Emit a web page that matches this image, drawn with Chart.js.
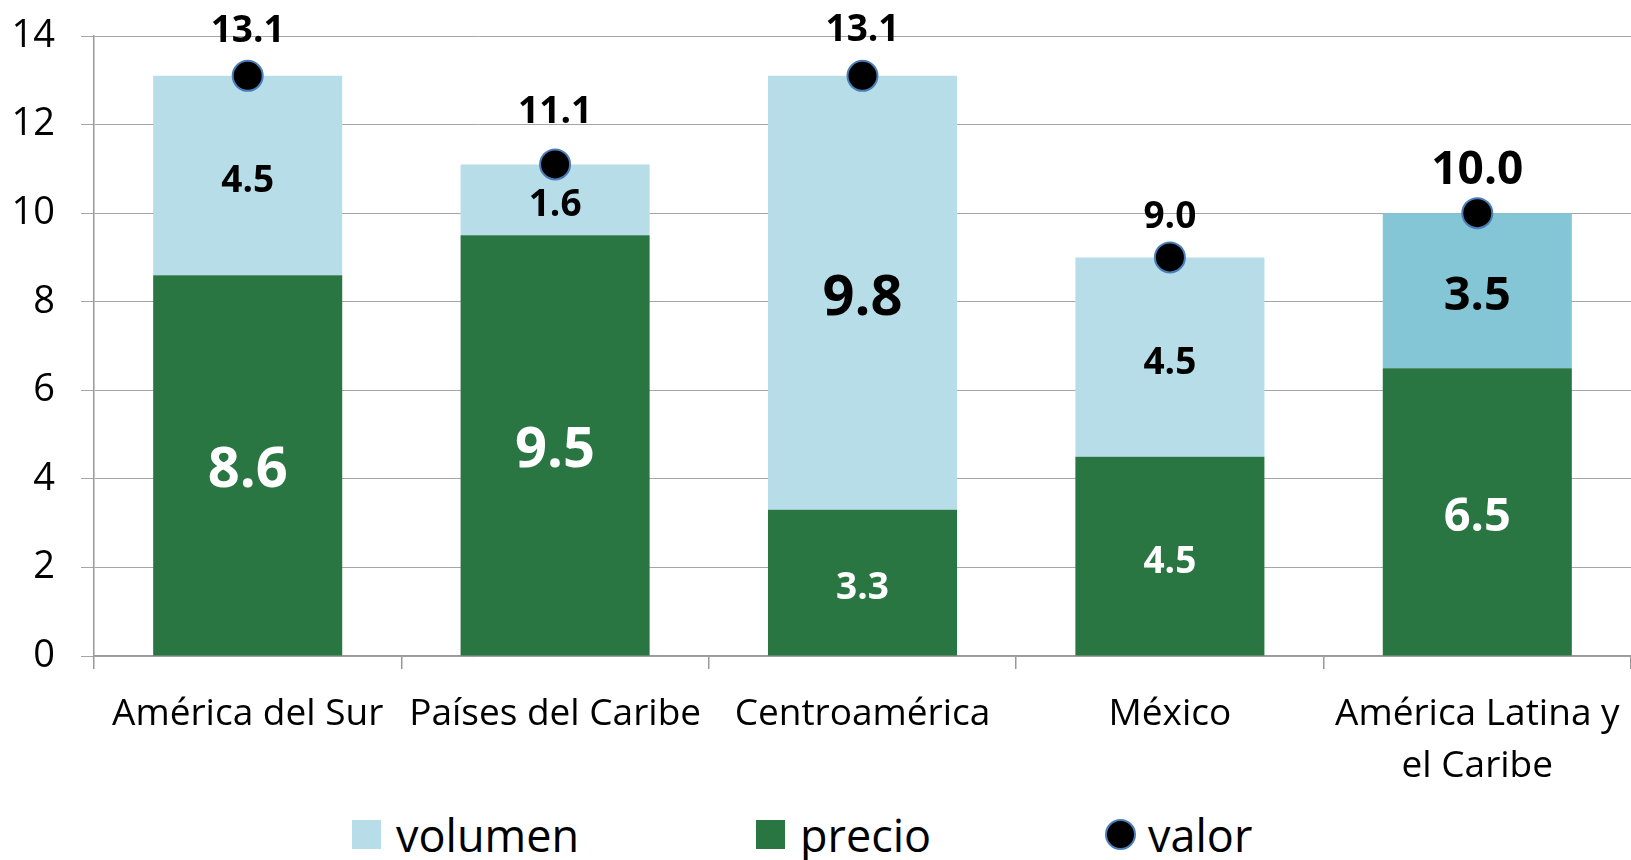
<!DOCTYPE html>
<html>
<head>
<meta charset="utf-8">
<script src="https://cdn.jsdelivr.net/npm/chart.js@4/dist/chart.umd.min.js"></script>
<style>
  html, body { margin: 0; padding: 0; background: #fff; }
  #wrap { position: relative; width: 1631px; height: 860px; }
  #chart { display: block; }
  .legend { position: absolute; top: 804px; left: 0; width: 1631px; height: 60px;
            font-family: "Open Sans", sans-serif; font-size: 45px; color: #000; }
  .item { position: absolute; top: 0; height: 60px; display: flex; align-items: center; }
  .swatch { width: 29px; height: 29px; margin-right: 15px; }
  .dot { width: 27px; height: 27px; border-radius: 50%; background: #000;
         border: 2px solid #4A7EBB; margin-right: 12px; }
</style>
</head>
<body>
<div id="wrap">
  <canvas id="chart"></canvas>
  <div class="legend" id="legend"></div>
</div>
<script>
const categories = [
  'América del Sur',
  'Países del Caribe',
  'Centroamérica',
  'México',
  ['América Latina y', 'el Caribe']
]
const precio = [8.6, 9.5, 3.3, 4.5, 6.5]
const volumen = [4.5, 1.6, 9.8, 4.5, 3.5]
const valor = [13.1, 11.1, 13.1, 9.0, 10.0]
const yTicks = [0, 2, 4, 6, 8, 10, 12, 14]

// label sizes and lifts (px)
const precioFont = [56, 56, 37, 37, 47]
const volumenFont = [37, 37, 56, 37, 47]
const valorFont = [37, 37, 37, 37, 46]
const valorLift = [34, 41, 35, 29, 29]

const green = '#2A7642'
const lightBlue = '#B7DDE8'
const darkBlue = '#84C5D6'
const volumenColors = volumen.map((v, i) => i === volumen.length - 1 ? darkBlue : lightBlue)

const labelPlugin = {
  id: 'valueLabels',
  afterDatasetsDraw(chart) {
    const ctx = chart.ctx
    ctx.save()
    ctx.textAlign = 'center'
    chart.data.datasets.forEach((ds, di) => {
      const meta = chart.getDatasetMeta(di)
      meta.data.forEach((el, i) => {
        const v = ds.data[i]
        const txt = v.toFixed(1)
        if (ds.type === 'line') {
          ctx.font = 'bold ' + valorFont[i] + 'px "Open Sans"'
          ctx.fillStyle = '#000'
          ctx.textBaseline = 'alphabetic'
          ctx.fillText(txt, el.x, el.y - valorLift[i])
        } else {
          const sizes = ds.label === 'precio' ? precioFont : volumenFont
          ctx.font = 'bold ' + sizes[i] + 'px "Open Sans"'
          ctx.fillStyle = ds.label === 'precio' ? '#fff' : '#000'
          ctx.textBaseline = 'middle'
          ctx.fillText(txt, el.x, (el.y + el.base) / 2 + 6)
        }
      })
    })
    ctx.restore()
  }
}

const canvas = document.getElementById('chart')
canvas.width = 1631
canvas.height = 800

new Chart(canvas, {
  type: 'bar',
  data: {
    labels: categories,
    datasets: [
      {
        label: 'valor',
        type: 'line',
        data: valor,
        showLine: false,
        clip: false,
        pointRadius: 15,
        pointHoverRadius: 15,
        pointBackgroundColor: '#000',
        pointBorderColor: '#4A7EBB',
        pointBorderWidth: 2,
        order: 0
      },
      {
        label: 'precio',
        data: precio,
        backgroundColor: green,
        barPercentage: 0.615,
        categoryPercentage: 1,
        order: 1
      },
      {
        label: 'volumen',
        data: volumen,
        backgroundColor: volumenColors,
        barPercentage: 0.615,
        categoryPercentage: 1,
        order: 2
      }
    ]
  },
  options: {
    responsive: false,
    animation: false,
    layout: { autoPadding: false, padding: { top: 36, right: 0, left: 0, bottom: 0 } },
    plugins: {
      legend: { display: false },
      tooltip: { enabled: false }
    },
    scales: {
      x: {
        stacked: true,
        grid: { offset: true, drawOnChartArea: false, drawTicks: true, tickLength: 13, color: '#999', lineWidth: 1.5 },
        border: { color: '#999', width: 1.5 },
        ticks: {
          color: '#000',
          padding: 19,
          maxRotation: 0,
          autoSkip: false,
          font: { family: 'Open Sans', size: 37, lineHeight: 1.41 }
        },
        afterFit(scale) {
          scale.height = 144
          scale.paddingLeft = 0
          scale.paddingRight = 0
        }
      },
      y: {
        stacked: true,
        min: 0,
        max: 14,
        afterBuildTicks(scale) { scale.ticks = yTicks.map(v => ({ value: v })) },
        grid: { color: '#A6A6A6', lineWidth: 1, borderDash: [4, 3], tickLength: 13, tickBorderDash: [] },
        border: { color: '#999', width: 1.5 },
        ticks: {
          color: '#000',
          padding: 26,
          font: { family: 'Open Sans', size: 38 }
        },
        afterFit(scale) {
          scale.width = 94
          scale.paddingTop = 0
          scale.paddingBottom = 0
        }
      }
    }
  },
  plugins: [labelPlugin]
})

// legend below the canvas
const legendItems = [
  { name: 'volumen', color: lightBlue, left: 352 },
  { name: 'precio', color: green, left: 756 },
  { name: 'valor', dot: true, left: 1105 }
]
const legend = document.getElementById('legend')
legendItems.forEach(it => {
  const d = document.createElement('div')
  d.className = 'item'
  d.style.left = it.left + 'px'
  const mark = document.createElement('span')
  if (it.dot) {
    mark.className = 'dot'
  } else {
    mark.className = 'swatch'
    mark.style.background = it.color
  }
  const t = document.createElement('span')
  t.textContent = it.name
  d.appendChild(mark)
  d.appendChild(t)
  legend.appendChild(d)
})
</script>
</body>
</html>
